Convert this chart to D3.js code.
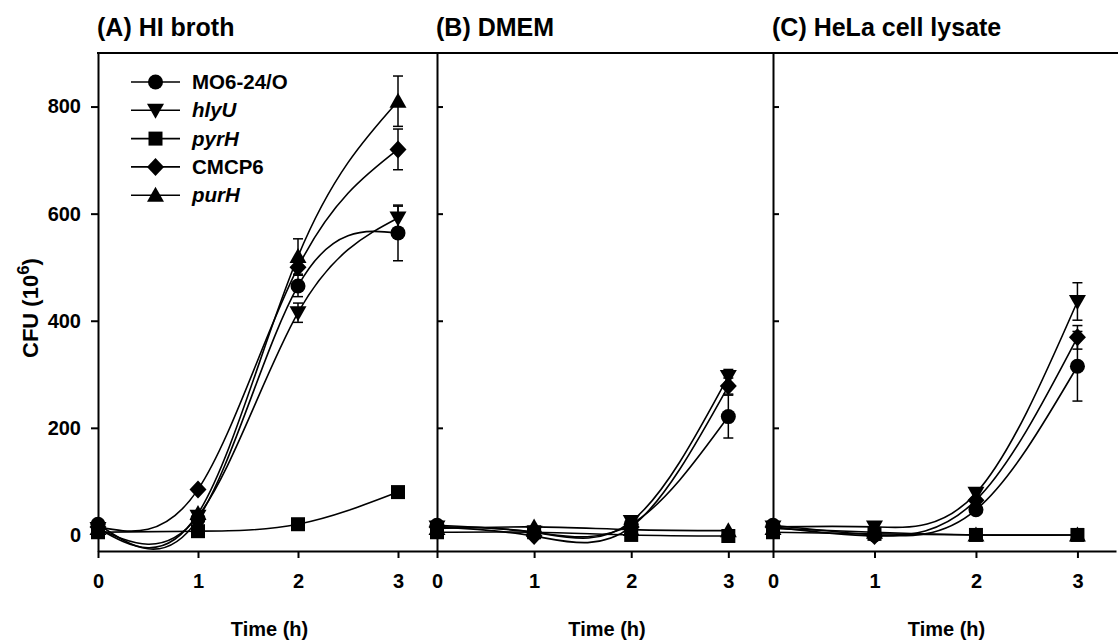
<!DOCTYPE html>
<html>
<head>
<meta charset="utf-8">
<script src="https://cdn.jsdelivr.net/npm/d3@7"></script>
<style>
  body { margin: 0; background: #fff; }
  svg text { font-family: "Liberation Sans", Arial, sans-serif; font-weight: bold; fill: #000; }
</style>
</head>
<body>
<div id="drawArea"></div>
<script>
// data (CFU x 10^6)
var times = [0, 1, 2, 3];
var strains = ["MO6-24/O", "hlyU", "pyrH", "CMCP6", "purH"];
var italicName = [false, true, true, false, true];
var panelTitles = ["(A) HI broth", "(B) DMEM", "(C) HeLa cell lysate"];
var yTicks = [0, 200, 400, 600, 800];

// (A) HI broth
var hiMO6 = [20, 30, 465, 564], hiMO6Err = [0, 0, 20, 52];
var hiHlyU = [12, 35, 415, 592], hiHlyUErr = [0, 0, 18, 22];
var hiPyrH = [5, 7, 20, 80], hiPyrHErr = [0, 0, 0, 0];
var hiCMCP6 = [15, 85, 500, 720], hiCMCP6Err = [0, 0, 0, 38];
var hiPurH = [12, 40, 520, 810], hiPurHErr = [0, 0, 33, 47];

// (B) DMEM
var dmMO6 = [18, 5, 20, 221], dmMO6Err = [0, 0, 0, 40];
var dmHlyU = [15, 5, 25, 296], dmHlyUErr = [0, 0, 0, 13];
var dmPyrH = [5, 5, 0, -2], dmPyrHErr = [0, 0, 0, 0];
var dmCMCP6 = [15, -2, 15, 278], dmCMCP6Err = [0, 0, 0, 15];
var dmPurH = [12, 15, 10, 8], dmPurHErr = [0, 0, 0, 0];

// (C) HeLa cell lysate
var heMO6 = [18, 0, 47, 315], heMO6Err = [0, 0, 0, 65];
var heHlyU = [15, 15, 78, 436], heHlyUErr = [0, 0, 0, 35];
var hePyrH = [5, 2, 0, 0], hePyrHErr = [0, 0, 0, 0];
var heCMCP6 = [15, -2, 65, 369], heCMCP6Err = [0, 0, 0, 22];
var hePurH = [12, 5, 0, 0], hePurHErr = [0, 0, 0, 0];

var panelData = [
  [[hiMO6, hiMO6Err], [hiHlyU, hiHlyUErr], [hiPyrH, hiPyrHErr], [hiCMCP6, hiCMCP6Err], [hiPurH, hiPurHErr]],
  [[dmMO6, dmMO6Err], [dmHlyU, dmHlyUErr], [dmPyrH, dmPyrHErr], [dmCMCP6, dmCMCP6Err], [dmPurH, dmPurHErr]],
  [[heMO6, heMO6Err], [heHlyU, heHlyUErr], [hePyrH, hePyrHErr], [heCMCP6, heCMCP6Err], [hePurH, hePurHErr]]
];

// layout
var W = 1118, H = 640;
var plotTop = 53, plotBottom = 551;
var panels = [
  {left: 98, width: 339, xmax: 3.39},
  {left: 437, width: 336, xmax: 3.46},
  {left: 773, width: 343, xmax: 3.38}
];

var svg = d3.select("#drawArea").append("svg")
  .attr("width", W).attr("height", H);

var y = d3.scaleLinear().domain([-30, 900]).range([plotBottom, plotTop]);

// marker shapes, centred on 0,0
function markerPath(k) {
  var p = d3.path();
  if (k === 0) { p.arc(0, 0, 7.5, 0, 2 * Math.PI); }
  else if (k === 1) { p.moveTo(-8.5, -6.5); p.lineTo(8.5, -6.5); p.lineTo(0, 8.5); p.closePath(); }
  else if (k === 2) { p.rect(-7, -7, 14, 14); }
  else if (k === 3) { p.moveTo(0, -9); p.lineTo(8.5, 0); p.lineTo(0, 9); p.lineTo(-8.5, 0); p.closePath(); }
  else { p.moveTo(-8.5, 6.5); p.lineTo(8.5, 6.5); p.lineTo(0, -8.5); p.closePath(); }
  return p.toString();
}

var line = d3.line().curve(d3.curveNatural);

panels.forEach(function(pn, pi) {
  var x = d3.scaleLinear().domain([0, pn.xmax]).range([pn.left, pn.left + pn.width]);
  var g = svg.append("g");

  // bottom axis
  var xa = g.append("g")
    .attr("transform", "translate(0," + plotBottom + ")")
    .call(d3.axisBottom(x).tickValues(times).tickFormat(d3.format("d"))
      .tickSize(7).tickSizeOuter(0).tickPadding(16));
  xa.select(".domain").attr("stroke-width", 2);
  xa.selectAll(".tick line").attr("stroke-width", 2);
  xa.selectAll("text").attr("font-size", 20).attr("font-family", null);

  // left axis
  var ya;
  if (pi === 0) {
    ya = g.append("g").attr("transform", "translate(" + pn.left + ",0)")
      .call(d3.axisLeft(y).tickValues(yTicks).tickFormat(d3.format("d"))
        .tickSize(7).tickSizeOuter(0).tickPadding(10));
    ya.selectAll("text").attr("font-size", 20).attr("font-family", null);
  } else {
    ya = g.append("g").attr("transform", "translate(" + pn.left + ",0)")
      .call(d3.axisRight(y).tickValues(yTicks).tickSize(6).tickSizeOuter(0).tickFormat(""));
  }
  ya.select(".domain").attr("stroke-width", 2);
  ya.selectAll(".tick line").attr("stroke-width", 2);

  // panel title
  svg.append("text")
    .attr("x", pn.left - 1).attr("y", 36)
    .attr("font-size", 25)
    .text(panelTitles[pi]);

  // x axis title
  svg.append("text")
    .attr("x", pn.left + pn.width / 2 + 2).attr("y", 636)
    .attr("text-anchor", "middle")
    .attr("font-size", 20)
    .text("Time (h)");

  var series = panelData[pi];

  // curves
  series.forEach(function(s) {
    g.append("path")
      .attr("d", line(times.map(function(t, i) { return [x(t), y(s[0][i])]; })))
      .attr("fill", "none").attr("stroke", "#000").attr("stroke-width", 1.6);
  });

  // error bars
  series.forEach(function(s) {
    times.forEach(function(t, i) {
      var e = s[1][i];
      if (!e) return;
      var cx = x(t), y1 = y(s[0][i] - e), y2 = y(s[0][i] + e);
      g.append("line").attr("x1", cx).attr("x2", cx).attr("y1", y1).attr("y2", y2)
        .attr("stroke", "#000").attr("stroke-width", 1.5);
      [y1, y2].forEach(function(yy) {
        g.append("line").attr("x1", cx - 5).attr("x2", cx + 5).attr("y1", yy).attr("y2", yy)
          .attr("stroke", "#000").attr("stroke-width", 1.5);
      });
    });
  });

  // markers
  series.forEach(function(s, k) {
    g.selectAll(null).data(times).enter().append("path")
      .attr("d", markerPath(k))
      .attr("transform", function(t, i) { return "translate(" + x(t) + "," + y(s[0][i]) + ")"; })
      .attr("fill", "#000");
  });
});

// top frame line
svg.append("line")
  .attr("x1", panels[0].left - 1).attr("x2", W)
  .attr("y1", plotTop).attr("y2", plotTop)
  .attr("stroke", "#000").attr("stroke-width", 2);

// y axis title
var yl = svg.append("text")
  .attr("transform", "translate(38,308) rotate(-90)")
  .attr("text-anchor", "middle")
  .attr("font-size", 22);
yl.append("tspan").text("CFU (10");
yl.append("tspan").attr("font-size", 17).attr("dy", -9).text("6");
yl.append("tspan").attr("dy", 9).text(")");

// legend
var legX = 131, legY0 = 82, legStep = 28.3;
strains.forEach(function(name, k) {
  var ly = legY0 + k * legStep;
  svg.append("line").attr("x1", legX).attr("x2", legX + 49).attr("y1", ly).attr("y2", ly)
    .attr("stroke", "#000").attr("stroke-width", 1.6);
  svg.append("path").attr("d", markerPath(k))
    .attr("transform", "translate(" + (legX + 24.5) + "," + ly + ")").attr("fill", "#000");
  svg.append("text").attr("x", legX + 61).attr("y", ly + 7)
    .attr("font-size", 20.5)
    .attr("font-style", italicName[k] ? "italic" : null)
    .text(name);
});
</script>
</body>
</html>
